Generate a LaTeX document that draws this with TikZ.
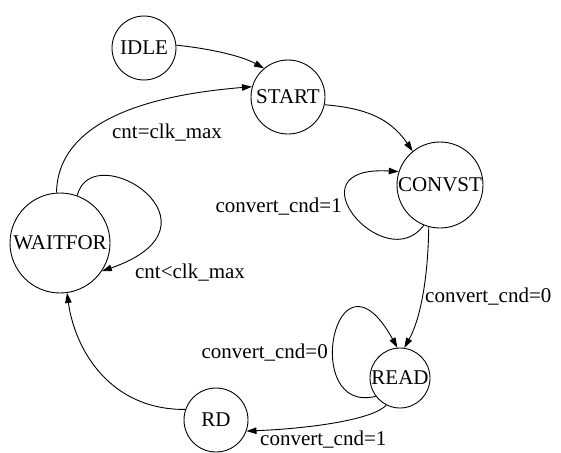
\documentclass[tikz,border=0pt]{standalone}
\usepackage{fontspec}
\setmainfont{Liberation Serif}
\newfontfamily\diagfont{Liberation Serif}
\usetikzlibrary{arrows.meta}
\begin{document}
\begin{tikzpicture}[x=1pt,y=-1pt,
  state/.style={draw,circle,line width=0.9pt,inner sep=0pt,font=\diagfont\fontsize{21}{25}\selectfont},
  lbl/.style={inner sep=0pt,font=\diagfont\fontsize{21}{25}\selectfont},
  edge/.style={draw,line width=0.9pt,-{Triangle[length=10pt,width=6.5pt]}}]
\useasboundingbox (0,0) rectangle (561,452);
\node[state,minimum size=64pt] (idle) at (144,48) {IDLE};
\node[state,minimum size=74pt] (start) at (288,97) {START};
\node[state,minimum size=86pt] (convst) at (440,185) {CONVST};
\node[state,minimum size=100pt] (waitfor) at (60,243) {WAITFOR};
\node[state,minimum size=60pt] (read) at (400,378) {READ};
\node[state,minimum size=64pt] (rd) at (216,420) {RD};

\draw[edge] (idle.5) .. controls (205,48) and (240,55) .. (start.130);
\draw[edge] (waitfor.94) .. controls (58,120) and (150,95) .. (start.164);
\node[lbl] (l1) at (167,133) {cnt=clk\_max};
\draw[edge] (start.-12) .. controls (365,108) and (390,118) .. (convst.129);
\draw[edge] (convst.-112) .. controls (385,278) and (288,165) .. (convst.162);
\node[lbl,anchor=east] (l2) at (342,207) {convert\_cnd=1};
\draw[edge] (convst.-105) .. controls (428,280) and (420,320) .. (read.82);
\node[lbl,anchor=west] (l3) at (425,297) {convert\_cnd=0};
\draw[edge] (read.-143) .. controls (300,415) and (335,235) .. (read.95);
\node[lbl,anchor=east] (l4) at (328,353) {convert\_cnd=0};
\draw[edge] (read.-117) .. controls (375,418) and (320,428) .. (rd.-20);
\node[lbl,anchor=west] (l5) at (260,440) {convert\_cnd=1};
\draw[edge] (rd.161) .. controls (110,410) and (75,350) .. (waitfor.-82);
\draw[edge] (waitfor.70) .. controls (92,135) and (235,225) .. (waitfor.-34);
\node[lbl] (l6) at (190,273) {cnt<clk\_max};
\end{tikzpicture}
\end{document}
